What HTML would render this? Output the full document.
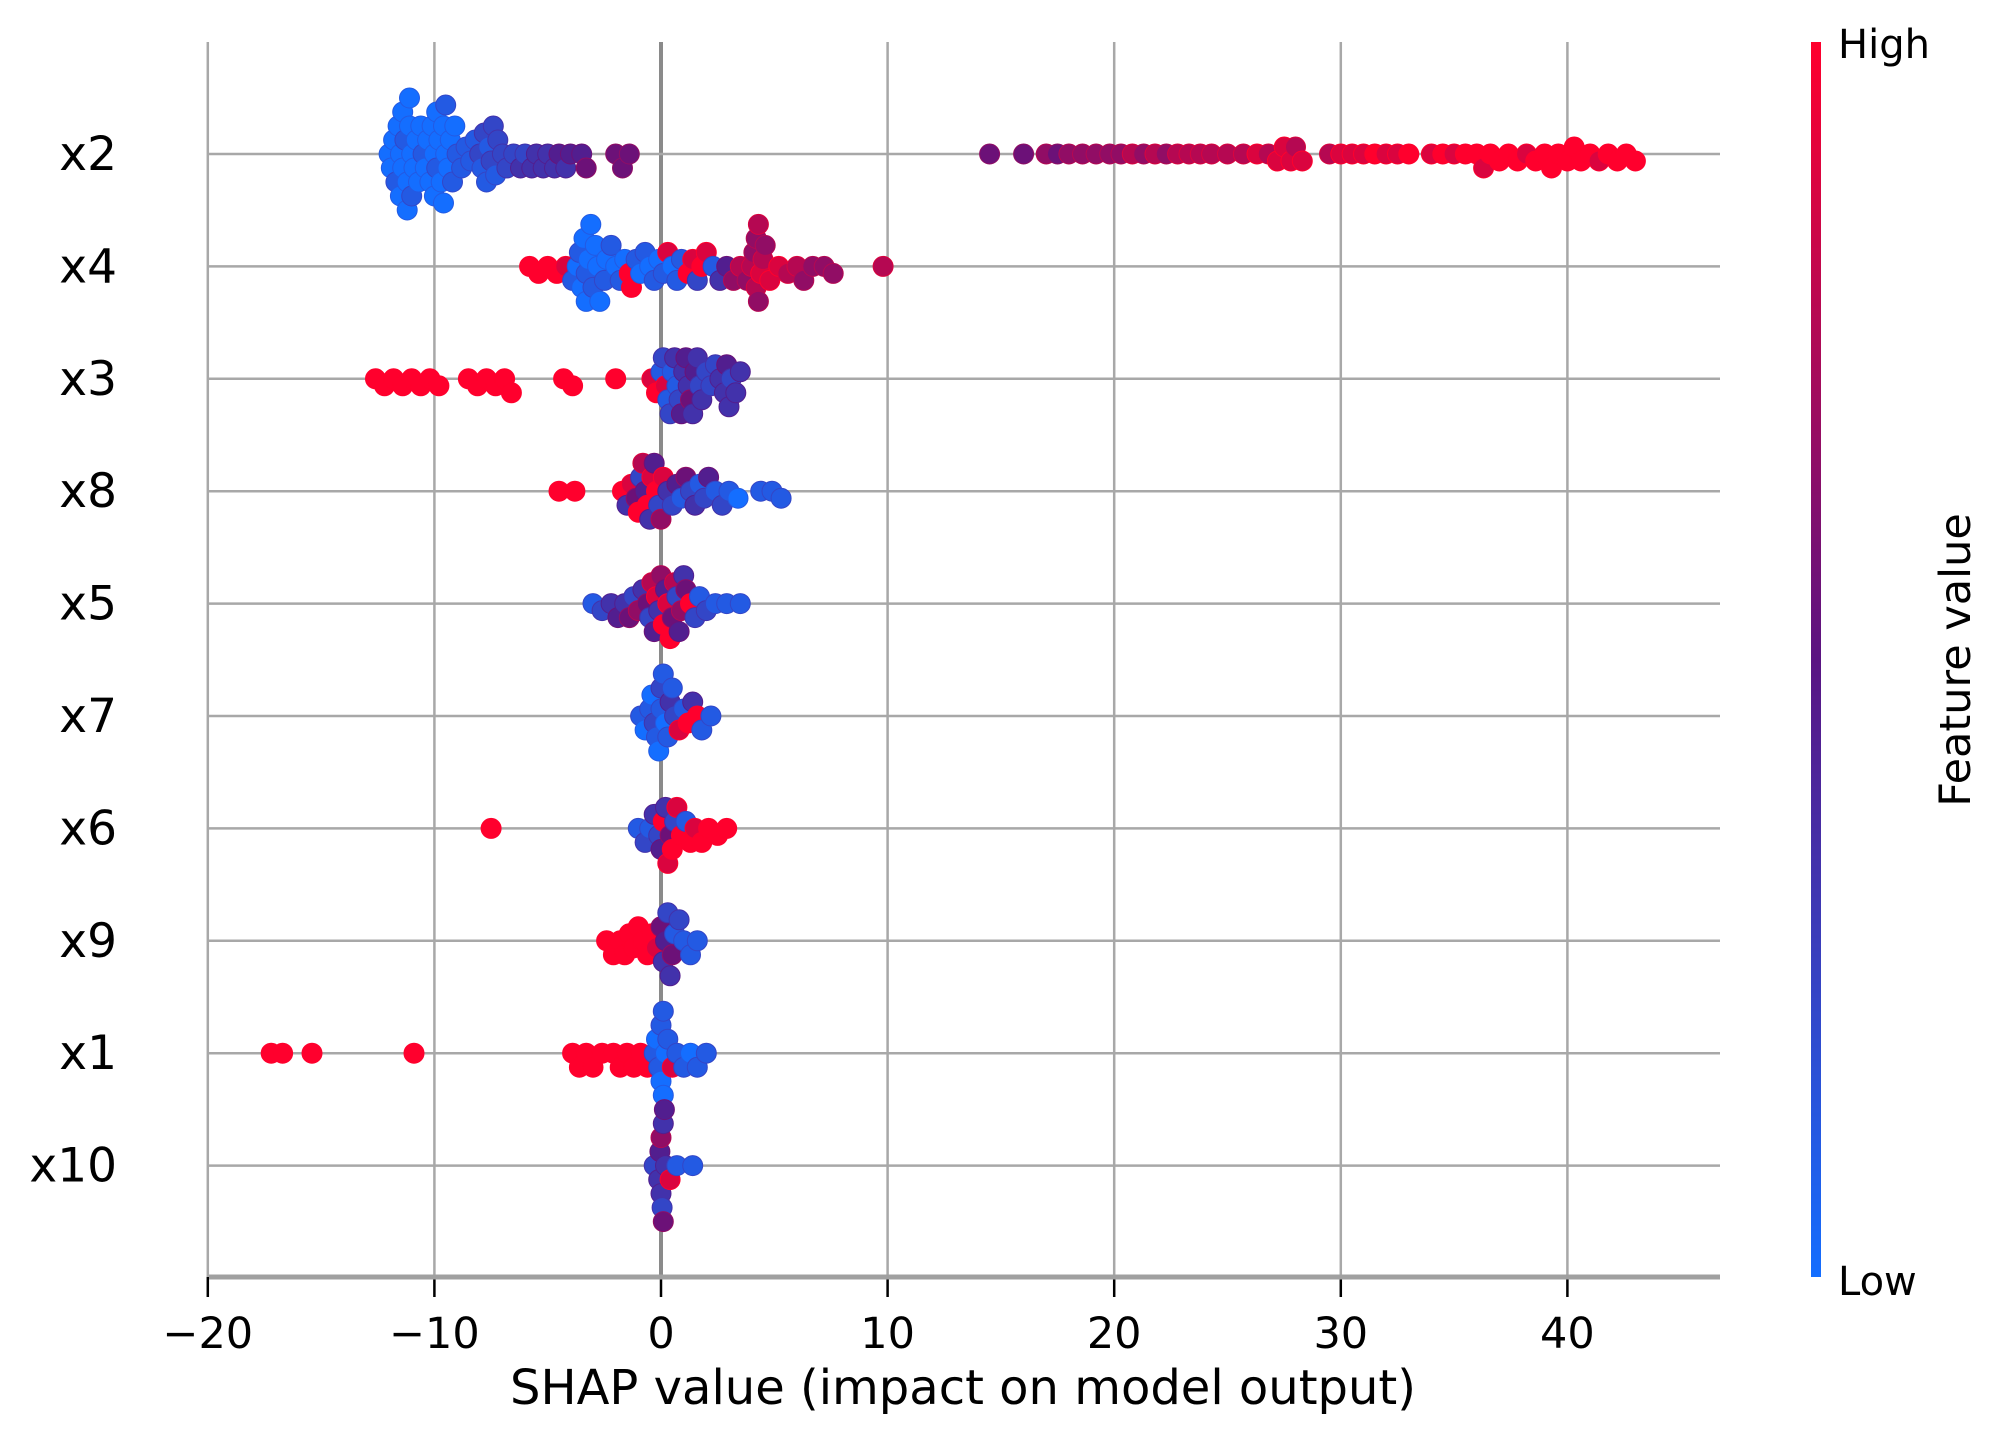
<!DOCTYPE html>
<html><head><meta charset="utf-8"><style>
html,body{margin:0;padding:0;background:#fff;}
svg{display:block;font-family:"DejaVu Sans","Liberation Sans",sans-serif;}
</style></head><body>
<svg id="chart" width="2000" height="1438" viewBox="0 0 2000 1438">
<defs><linearGradient id="cb" x1="0" y1="1" x2="0" y2="0">
<stop offset="0" stop-color="rgb(20,110,255)"/><stop offset="0.5" stop-color="rgb(90,20,130)"/><stop offset="1" stop-color="rgb(255,0,45)"/>
</linearGradient></defs>
<g id="grid"></g>
<g id="dots"></g>
<g id="axes"></g>
<rect x="1811" y="42" width="10" height="1235" fill="url(#cb)"/>
<text x="1838" y="58" font-size="40">High</text>
<text x="1838" y="1295" font-size="40">Low</text>
<text transform="translate(1970,660) rotate(-90)" text-anchor="middle" font-size="43">Feature value</text>
<text x="963" y="1404" text-anchor="middle" font-size="48">SHAP value (impact on model output)</text>
</svg>
<script>
const features = ["x2","x4","x3","x8","x5","x7","x6","x9","x1","x10"];
const xTicks = [-20,-10,0,10,20,30,40];
const xTickLabels = ["\u221220","\u221210","0","10","20","30","40"];
// pairs: [shap value, feature value 0..9]
const x2pts = [[-12,0],[-11.9,0],[-11.8,0],[-11.7,1],[-11.6,0],[-11.5,0],[-11.5,0],[-11.4,0],[-11.4,0],[-11.3,1],[-11.2,0],[-11.2,0],[-11.1,0],[-11.1,0],[-11,0],[-11,1],[-10.9,0],[-10.8,0],[-10.7,0],[-10.6,0],[-10.5,1],[-10.4,0],[-10.3,0],[-10.2,0],[-10.1,0],[-10,0],[-10,0],[-9.9,1],[-9.9,0],[-9.8,0],[-9.7,0],[-9.6,0],[-9.6,0],[-9.5,0],[-9.5,1],[-9.4,0],[-9.3,0],[-9.2,1],[-9.1,0],[-9,1],[-8.8,1],[-8.6,1],[-8.4,1],[-8.2,1],[-8,2],[-7.9,1],[-7.8,2],[-7.7,1],[-7.6,1],[-7.5,2],[-7.4,2],[-7.3,1],[-7.2,2],[-7,2],[-6.8,2],[-6.5,2],[-6.2,3],[-6,2],[-5.7,3],[-5.5,3],[-5.2,3],[-5,3],[-4.7,3],[-4.5,4],[-4.2,3],[-4,4],[-3.5,4],[-3.3,5],[-2,5],[-1.7,5],[-1.4,5],[14.5,5],[16,5],[17,6],[17.5,5],[18,6],[18.6,6],[19.2,6],[19.8,6],[20.3,6],[20.8,7],[21.3,6],[21.8,7],[22.3,6],[22.8,7],[23.3,7],[23.8,7],[24.3,7],[25,7],[25.7,7],[26.3,8],[26.8,7],[27.2,8],[27.5,8],[27.8,8],[28,7],[28.3,8],[29.5,7],[30,8],[30.5,8],[31,8],[31.5,9],[32,8],[32.5,8],[33,9],[34,8],[34.5,9],[35,8],[35.5,9],[36,9],[36.3,8],[36.6,9],[37,9],[37.4,9],[37.8,9],[38.2,8],[38.6,9],[39,9],[39.3,9],[39.6,9],[40,9],[40.3,9],[40.6,9],[41,9],[41.4,8],[41.8,9],[42.2,9],[42.6,9],[43,9]];
const x4pts = [[-5.8,9],[-5.4,9],[-5,9],[-4.6,9],[-4.2,8],[-3.9,1],[-3.7,0],[-3.6,1],[-3.5,0],[-3.4,0],[-3.3,1],[-3.3,0],[-3.2,0],[-3.1,0],[-3,1],[-2.9,0],[-2.8,0],[-2.7,0],[-2.5,1],[-2.4,0],[-2.2,1],[-2,0],[-1.8,1],[-1.6,0],[-1.4,9],[-1.3,9],[-1.1,1],[-0.9,0],[-0.7,1],[-0.5,0],[-0.3,1],[-0.1,0],[0.1,1],[0.3,8],[0.5,0],[0.7,1],[0.9,1],[1.2,9],[1.4,8],[1.6,2],[1.8,9],[2,8],[2.3,1],[2.6,3],[2.9,4],[3.2,6],[3.5,7],[3.8,6],[4,7],[4.1,6],[4.2,7],[4.2,6],[4.3,6],[4.3,7],[4.4,8],[4.5,7],[4.6,6],[4.8,8],[5.2,8],[5.6,7],[6,7],[6.3,6],[6.7,6],[7.2,6],[7.6,6],[9.8,7]];
const x3pts = [[-12.6,9],[-12.2,9],[-11.8,9],[-11.4,9],[-11,9],[-10.6,9],[-10.2,9],[-9.8,9],[-8.5,9],[-8.1,9],[-7.7,9],[-7.3,9],[-6.9,9],[-6.6,9],[-4.3,9],[-3.9,9],[-2,9],[-0.4,8],[-0.2,9],[0,1],[0.1,2],[0.2,8],[0.3,1],[0.4,2],[0.5,1],[0.6,3],[0.7,1],[0.8,2],[0.9,4],[1,3],[1.1,4],[1.2,3],[1.3,5],[1.4,3],[1.5,4],[1.6,3],[1.7,2],[1.8,3],[2,2],[2.2,2],[2.4,2],[2.6,3],[2.8,3],[2.9,4],[3,3],[3.1,2],[3.3,3],[3.5,3]];
const x8pts = [[-4.5,9],[-3.8,9],[-1.7,9],[-1.5,3],[-1.3,8],[-1.1,5],[-1,9],[-0.9,2],[-0.8,7],[-0.7,4],[-0.6,9],[-0.5,3],[-0.4,8],[-0.3,4],[-0.2,9],[-0.1,2],[0,6],[0.1,8],[0.3,3],[0.5,2],[0.7,4],[0.9,1],[1.1,5],[1.3,2],[1.5,3],[1.7,1],[1.9,2],[2.1,4],[2.4,1],[2.7,2],[3,1],[3.4,0],[4.4,1],[4.9,1],[5.3,1]];
const x5pts = [[-3,1],[-2.6,2],[-2.2,3],[-1.9,4],[-1.6,3],[-1.4,5],[-1.2,2],[-1,6],[-0.8,3],[-0.6,5],[-0.5,2],[-0.4,7],[-0.3,4],[-0.2,8],[-0.1,3],[0,6],[0.1,9],[0.2,4],[0.3,8],[0.4,9],[0.5,5],[0.6,7],[0.7,2],[0.8,4],[0.9,6],[1,3],[1.1,5],[1.3,9],[1.5,2],[1.7,1],[2,2],[2.4,1],[2.9,1],[3.5,1]];
const x7pts = [[-0.9,1],[-0.7,0],[-0.5,1],[-0.4,0],[-0.3,2],[-0.2,1],[-0.1,0],[0,1],[0,2],[0.1,1],[0.2,0],[0.3,1],[0.4,3],[0.5,1],[0.6,2],[0.8,8],[1,1],[1.2,9],[1.4,3],[1.6,9],[1.8,1],[2.2,1]];
const x6pts = [[-7.5,9],[-1,1],[-0.7,2],[-0.5,1],[-0.3,3],[-0.1,2],[0,4],[0.1,9],[0.2,3],[0.3,8],[0.4,5],[0.5,9],[0.6,2],[0.7,8],[0.9,9],[1.1,1],[1.3,9],[1.5,8],[1.8,9],[2.1,9],[2.5,9],[2.9,9]];
const x9pts = [[-2.4,9],[-2.1,9],[-1.8,9],[-1.6,9],[-1.4,9],[-1.2,9],[-1,9],[-0.8,9],[-0.6,9],[-0.4,9],[-0.2,8],[0,5],[0.1,3],[0.2,4],[0.3,2],[0.4,3],[0.5,5],[0.6,1],[0.8,2],[1,1],[1.3,1],[1.6,1]];
const x1pts = [[-17.2,9],[-16.7,9],[-15.4,9],[-10.9,9],[-3.9,9],[-3.6,9],[-3.3,9],[-3,9],[-2.6,9],[-2.1,9],[-1.8,9],[-1.5,9],[-1.2,9],[-0.9,9],[-0.6,9],[-0.3,1],[-0.2,0],[-0.1,1],[0,0],[0,1],[0.1,0],[0.1,1],[0.2,0],[0.3,1],[0.5,8],[0.7,1],[1,1],[1.3,0],[1.6,1],[2,1]];
const x10pts = [[-0.3,2],[-0.1,3],[-0.05,4],[0,3],[0,6],[0.05,2],[0.1,3],[0.1,5],[0.15,4],[0.2,3],[0.4,8],[0.7,1],[1.4,1]];
const allPts = [x2pts,x4pts,x3pts,x8pts,x5pts,x7pts,x6pts,x9pts,x1pts,x10pts];

const NS="http://www.w3.org/2000/svg";
const X0=209, X1=1720, Y0=42, YAX=1277;
const xScale = v => 661 + v*22.66;
const rowY = i => 154 + i*112.4;
function mk(tag, attrs, parent){const e=document.createElementNS(NS,tag);for(const k in attrs)e.setAttribute(k,attrs[k]);parent.appendChild(e);return e;}
function color(c){
  const t=c/9;let r,g,b;
  if(t<0.5){const u=t/0.5;r=20+70*u;g=110-90*u;b=255-125*u;}
  else{const u=(t-0.5)/0.5;r=90+165*u;g=20-20*u;b=130-85*u;}
  return `rgb(${r|0},${g|0},${b|0})`;
}
const grid=document.getElementById('grid'), axes=document.getElementById('axes'), dots=document.getElementById('dots');
xTicks.forEach((t,i)=>{
  const gl=mk('line',{x1:xScale(t),x2:xScale(t),y1:Y0,y2:YAX,stroke:t===0?'#8a8a8a':'#a8a8a8','stroke-width':t===0?4:2.5},grid);
  
  
  const tk=mk('line',{x1:xScale(t),x2:xScale(t),y1:YAX,y2:YAX+20,stroke:'#000','stroke-width':2.5},axes);
  
  
  const lb=mk('text',{x:xScale(t),y:1348,'text-anchor':'middle','font-size':43},axes);
  lb.textContent=xTickLabels[i];
  
  
});
features.forEach((f,i)=>{
  const y=rowY(i);
  const hl=mk('line',{x1:X0,x2:X1,y1:y,y2:y,stroke:'#a8a8a8','stroke-width':2.5},grid);
  
  
  const lb=mk('text',{x:117,y:y+16,'text-anchor':'end','font-size':47},axes);
  lb.textContent=f;
  
  
});
const ax=mk('line',{x1:X0,x2:X1,y1:YAX,y2:YAX,stroke:'#a0a0a0','stroke-width':5},axes);



const R=10, D=11, STEP=7;
allPts.forEach((pts,i)=>{
  const cy=rowY(i);
  const sorted=pts.map(p=>({x:xScale(p[0]),c:p[1]})).sort((a,b)=>a.x-b.x);
  const placed=[];
  sorted.forEach(p=>{
    let k=0, off=0;
    while(true){
      off = (k===0)?0:((k%2?1:-1)*Math.ceil(k/2)*STEP);
      const ok=placed.every(q=>{const dx=q.x-p.x, dy=q.y-off;return dx*dx+dy*dy>=D*D;});
      if(ok)break; k++; if(k>40)break;
    }
    p.y=off; placed.push(p);
  });
  placed.forEach(p=>{
    const c=mk('circle',{cx:p.x.toFixed(1),cy:(cy+p.y).toFixed(1),r:R,fill:color(p.c),stroke:color(Math.min(9,p.c+1)),'stroke-width':1},dots);
    
    
  });
});
</script>
</body></html>
